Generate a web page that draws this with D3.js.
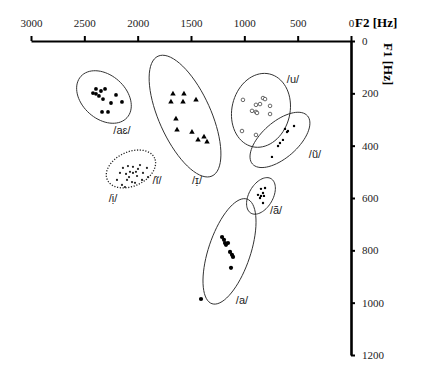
<!DOCTYPE html>
<html>
<head>
<meta charset="utf-8">
<script src="https://cdn.jsdelivr.net/npm/d3@7"></script>
<style>
  body { margin: 0; background: #fff; }
  .lbl { font-family: "Liberation Sans", Arial, sans-serif; font-size: 11px; fill: #222; }
  .title { font-family: "Liberation Serif", "Times New Roman", serif; font-size: 13px; font-weight: bold; fill: #000; }
</style>
</head>
<body>
<div id="chart"></div>
<script>
// tick values
var f2_ticks = [3000, 2500, 2000, 1500, 1000, 500, 0];
var f1_ticks = [0, 200, 400, 600, 800, 1000, 1200];

// measured tokens, [F2, F1] in Hz
var pts_ae = [[2391,183],[2344,191],[2306,183],[2419,199],[2391,202],[2363,210],
              [2325,222],[2203,206],[2250,237],[2147,233],[2334,271],[2278,271]];
var pts_I = [[1669,202],[1566,202],[1688,233],[1575,233],[1453,225],[1641,298],
             [1631,340],[1491,348],[1434,378],[1378,367],[1350,386]];
var pts_inas = [[2138,485],[2091,478],[2072,500],[2044,481],[2044,504],[2016,500],
                [2006,516],[2081,520],[2100,531],[2053,539],[2166,504],[2194,531],
                [1950,504],[1913,485],[1978,474],[2147,550],[2025,542],[2119,558],
                [1959,531],[1903,520],[1997,489],[2109,508]];
var pts_u = [[1013,225],[891,244],[853,241],[825,218],[806,222],[759,248],
             [928,267],[891,271],[881,275],[759,279],[1022,344],[891,359]];
var pts_unas = [[619,336],[591,344],[534,325],[600,348],[638,378],[666,390],[684,401],[741,443]];
var pts_anas = [[844,565],[825,581],[872,588],[844,592],[816,592],[853,600],[825,619],[806,562]];
var pts_a = [[1209,749],[1191,760],[1181,772],[1172,779],[1153,772],[1134,806],
             [1116,817],[1106,825],[1125,867],[1406,986]];

// dispersion ellipses: centre [F2, F1] and two semi-axis vectors [dF2, dF1]
var ell_ae   = {c: [2316,214], u: [-216,79],   v: [138,62]};
var ell_I    = {c: [1556,287], u: [-253,229],  v: [222,41]};
var ell_inas = {c: [2063,489], u: [-221,-42],  v: [-68,59]};
var ell_u    = {c: [844,265],  u: [-80,-139],  v: [-265,25]};
var ell_unas = {c: [666,378],  u: [-258,-92],  v: [-111,52]};
var ell_anas = {c: [844,592],  u: [-94,-66],   v: [-97,23]};
var ell_a    = {c: [1139,804], u: [-164,-200], v: [-187,25]};

// vowel labels and anchor [F2, F1]
var labels = [
  {t: "/aɛ/", p: [2147,340]},
  {t: "/ĩ/",  p: [1819,531]},
  {t: "/ị/",  p: [2231,600]},
  {t: "/ɪ̣/",  p: [1444,531]},
  {t: "/u/",  p: [544,145]},
  {t: "/ũ/",  p: [338,432]},
  {t: "/ã/",  p: [703,646]},
  {t: "/a/",  p: [1022,989]}
];

var svg = d3.select("#chart")
    .append("svg")
    .attr("width", 432)
    .attr("height", 374);

// F2 runs right to left along the top
var x = d3.scaleLinear()
    .domain([3000, 0])
    .range([31, 351]);

// F1 runs downwards on the right
var y = d3.scaleLinear()
    .domain([0, 1200])
    .range([41, 355]);

var xAxis = svg.append("g")
    .attr("transform", "translate(0,41)")
    .call(d3.axisTop(x).tickValues(f2_ticks).tickFormat(d3.format("d"))
      .tickSize(5).tickSizeOuter(0).tickPadding(9));

var yAxis = svg.append("g")
    .attr("transform", "translate(351,0)")
    .call(d3.axisRight(y).tickValues(f1_ticks).tickFormat(d3.format("d"))
      .tickSize(4).tickSizeOuter(0).tickPadding(7));

[xAxis, yAxis].forEach(function(a) {
  a.attr("font-family", "Liberation Serif, Times New Roman, serif")
   .attr("font-size", 11);
  a.selectAll(".tick text").attr("fill", "#222");
  a.selectAll(".tick line").attr("stroke", "#000").attr("stroke-width", 2);
});
xAxis.select(".domain").attr("stroke", "#000").attr("stroke-width", 2.2);
yAxis.select(".domain").attr("stroke", "#000").attr("stroke-width", 2.6);

// axis titles
svg.append("text")
    .attr("class", "title")
    .attr("x", 355)
    .attr("y", 27)
    .text("F2 [Hz]");

svg.append("text")
    .attr("class", "title")
    .attr("transform", "translate(384,43) rotate(90)")
    .text("F1 [Hz]");

// ellipses drawn through the scales
function ellipsePath(e) {
  var ring = d3.range(0, 72).map(function(i) {
    var t = i / 72 * 2 * Math.PI;
    var f2 = e.c[0] + e.u[0] * Math.cos(t) + e.v[0] * Math.sin(t);
    var f1 = e.c[1] + e.u[1] * Math.cos(t) + e.v[1] * Math.sin(t);
    return [x(f2), y(f1)];
  });
  return d3.line().curve(d3.curveCardinalClosed)(ring);
}

[ell_ae, ell_I, ell_u, ell_unas, ell_anas, ell_a].forEach(function(e) {
  svg.append("path")
      .attr("d", ellipsePath(e))
      .attr("fill", "none")
      .attr("stroke", "#333")
      .attr("stroke-width", 1);
});

svg.append("path")
    .attr("d", ellipsePath(ell_inas))
    .attr("fill", "none")
    .attr("stroke", "#222")
    .attr("stroke-width", 1.3)
    .attr("stroke-dasharray", "1.2,1.6");

// points
function dots(data, r, fill, stroke) {
  svg.append("g")
    .selectAll("circle")
    .data(data)
    .enter()
    .append("circle")
    .attr("cx", function(d) { return x(d[0]); })
    .attr("cy", function(d) { return y(d[1]); })
    .attr("r", r)
    .attr("fill", fill)
    .attr("stroke", stroke || "none")
    .attr("stroke-width", 0.8);
}

dots(pts_ae, 1.9, "#000");
dots(pts_inas, 1.1, "#222");
dots(pts_u, 1.8, "#fff", "#444");
dots(pts_unas, 1.2, "#000");
dots(pts_anas, 1.2, "#000");
dots(pts_a, 2.1, "#000");

svg.append("g")
  .selectAll("path")
  .data(pts_I)
  .enter()
  .append("path")
  .attr("d", d3.symbol().type(d3.symbolTriangle).size(13))
  .attr("transform", function(d) { return "translate(" + x(d[0]) + "," + y(d[1]) + ")"; })
  .attr("fill", "#000");

// vowel labels
svg.append("g")
  .selectAll("text")
  .data(labels)
  .enter()
  .append("text")
  .attr("class", "lbl")
  .attr("x", function(d) { return x(d.p[0]); })
  .attr("y", function(d) { return y(d.p[1]); })
  .attr("dy", "0.35em")
  .attr("text-anchor", "middle")
  .text(function(d) { return d.t; });
</script>
</body>
</html>
